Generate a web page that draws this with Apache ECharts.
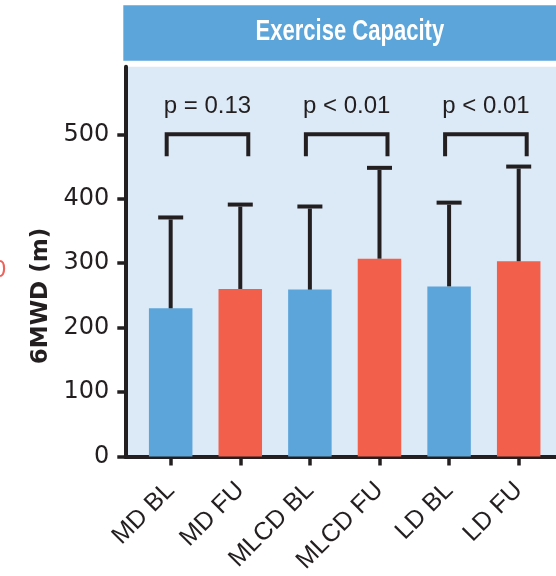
<!DOCTYPE html>
<html>
<head>
<meta charset="utf-8">
<script src="https://cdn.jsdelivr.net/npm/echarts@6/dist/echarts.min.js"></script>
<style>
html,body{margin:0;padding:0;background:#ffffff;}
#chart{width:556px;height:576px;}
</style>
</head>
<body>
<div id="chart"></div>
<script>
// ---- data ----
const categories = ['MD BL', 'MD FU', 'MLCD BL', 'MLCD FU', 'LD BL', 'LD FU'];
const groups = ['BL', 'FU', 'BL', 'FU', 'BL', 'FU'];
const means = [230, 260, 259, 307, 264, 303];
const sdUpper = [141, 131, 129, 141, 130, 147];
const yTicks = [0, 100, 200, 300, 400, 500];
const comparisons = [[0, 1], [2, 3], [4, 5]];
const pLabels = ['p = 0.13', 'p < 0.01', 'p < 0.01'];
const bracketLevel = [500, 500, 500];
const panelTitle = 'Exercise Capacity';
const yAxisTitle = '6MWD (m)';

// ---- styles ----
const INK = '#231f20';
const BLUE = '#5ca5da';
const RED = '#f25f4a';
const BG = '#dce9f6';
const xIdx = categories.map((c, i) => i);

const chart = echarts.init(document.getElementById('chart'), null, {renderer: 'canvas'});

const option = {
  animation: false,
  backgroundColor: '#ffffff',
  grid: {
    left: 125.3, right: 0, top: 66.7, bottom: 119.2,
    show: true, backgroundColor: BG, borderWidth: 0
  },
  xAxis: {
    type: 'value',
    min: -0.652, max: 5.536,
    splitLine: {show: false},
    axisLine: {show: true, onZero: false, lineStyle: {color: INK, width: 4}},
    axisTick: {show: true, customValues: xIdx, length: 9, lineStyle: {color: INK, width: 3.5}},
    axisLabel: {
      show: true, customValues: xIdx,
      formatter: v => categories[Math.round(v)],
      rotate: 45, margin: 30,
      fontFamily: 'Liberation Sans', fontSize: 25, color: INK
    }
  },
  yAxis: {
    type: 'value',
    min: 0, max: 605,
    splitLine: {show: false},
    axisLine: {show: true, onZero: false, lineStyle: {color: INK, width: 4}},
    axisTick: {show: true, customValues: yTicks, length: 8, lineStyle: {color: INK, width: 3.5}},
    axisLabel: {
      show: true, customValues: yTicks, margin: 16,
      fontFamily: 'DejaVu Sans', fontSize: 24, color: INK
    }
  },
  graphic: [
    {
      type: 'rect', silent: true,
      shape: {x: 123.3, y: 5.3, width: 440, height: 55.4},
      style: {fill: BLUE}
    },
    {
      type: 'text', silent: true,
      x: 349.8, y: 32, scaleX: 0.76,
      style: {
        text: panelTitle, fill: '#ffffff',
        font: 'bold 29px "Liberation Sans", Arial, sans-serif',
        align: 'center', verticalAlign: 'middle'
      }
    },
    {
      type: 'text', silent: true,
      x: 41.5, y: 296, rotation: Math.PI / 2,
      style: {
        text: yAxisTitle, fill: INK,
        font: 'bold 23px "DejaVu Sans", sans-serif',
        align: 'center', verticalAlign: 'middle'
      }
    },
    {
      type: 'text', silent: true,
      x: 6, y: 270,
      style: {
        text: '0', fill: '#f0615a',
        font: '24px "Liberation Sans", Arial, sans-serif',
        align: 'right', verticalAlign: 'middle'
      }
    }
  ],
  series: [
    {
      type: 'bar',
      barWidth: 43.5,
      z: 2,
      data: means.map((m, i) => ({
        value: [i, m],
        itemStyle: {color: groups[i] === 'BL' ? BLUE : RED}
      }))
    },
    {
      type: 'custom',
      z: 3,
      encode: {x: 0, y: [1, 2]},
      data: means.map((m, i) => [i, m, m + sdUpper[i]]),
      renderItem: function (params, api) {
        const base = api.coord([api.value(0), api.value(1)]);
        const top = api.coord([api.value(0), api.value(2)]);
        const st = {stroke: INK, lineWidth: 4};
        return {
          type: 'group',
          children: [
            {type: 'line', shape: {x1: base[0], y1: base[1], x2: top[0], y2: top[1] + 2}, style: st},
            {type: 'line', shape: {x1: top[0] - 12.5, y1: top[1], x2: top[0] + 12.5, y2: top[1]}, style: st}
          ]
        };
      }
    },
    {
      type: 'custom',
      z: 3,
      encode: {x: [0, 1], y: 2},
      data: comparisons.map((c, i) => [c[0], c[1], bracketLevel[i], i]),
      renderItem: function (params, api) {
        const a = api.coord([api.value(0), api.value(2)]);
        const b = api.coord([api.value(1), api.value(2)]);
        const x1 = a[0] - 4, x2 = b[0] + 8, y = a[1], leg = 22;
        const idx = api.value(3);
        return {
          type: 'group',
          children: [
            {
              type: 'polyline',
              shape: {points: [[x1, y + leg], [x1, y], [x2, y], [x2, y + leg]]},
              style: {stroke: INK, lineWidth: 4, fill: null, lineJoin: 'miter'}
            },
            {
              type: 'text',
              x: (x1 + x2) / 2, y: y - 28,
              style: {
                text: pLabels[idx], fill: INK,
                font: '24px "Liberation Sans", Arial, sans-serif',
                align: 'center', verticalAlign: 'middle'
              }
            }
          ]
        };
      }
    }
  ]
};
chart.setOption(option);
</script>
</body>
</html>
